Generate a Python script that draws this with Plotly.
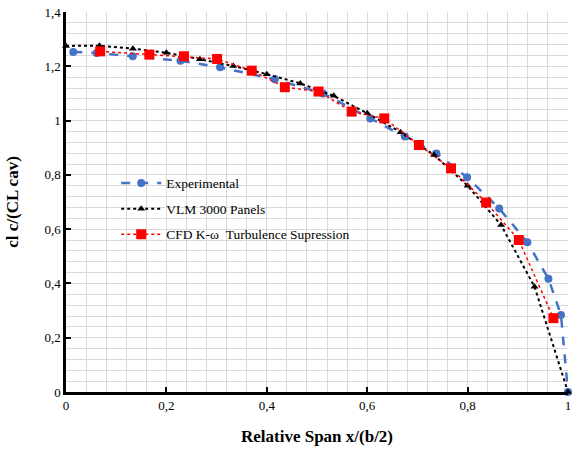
import plotly.graph_objects as go

# Experimental data
exp_x = [0.0145, 0.061, 0.133, 0.228, 0.307, 0.416, 0.512, 0.606, 0.675, 0.738, 0.799, 0.863, 0.919, 0.961, 0.986, 1.0]
exp_y = [1.253, 1.249, 1.237, 1.220, 1.196, 1.152, 1.100, 1.008, 0.941, 0.879, 0.791, 0.676, 0.552, 0.417, 0.284, 0.0]

# VLM 3000 panels
vlm_x = [0.0, 0.0667, 0.1333, 0.2, 0.2667, 0.3333, 0.4, 0.4667, 0.5333, 0.6, 0.6667, 0.7333, 0.8, 0.8667, 0.9333, 1.0]
vlm_y = [1.275, 1.276, 1.265, 1.250, 1.226, 1.201, 1.171, 1.137, 1.091, 1.027, 0.957, 0.873, 0.760, 0.615, 0.388, 0.0]

# CFD K-omega
cfd_x = [0.068, 0.166, 0.235, 0.301, 0.370, 0.436, 0.503, 0.569, 0.634, 0.703, 0.767, 0.837, 0.902, 0.971]
cfd_y = [1.255, 1.243, 1.237, 1.227, 1.184, 1.123, 1.107, 1.033, 1.008, 0.910, 0.824, 0.698, 0.560, 0.272]

x_ticks = [0, 0.2, 0.4, 0.6, 0.8, 1.0]
y_ticks = [0, 0.2, 0.4, 0.6, 0.8, 1.0, 1.2, 1.4]

FONT = "Liberation Serif, Times New Roman, serif"
GRID = "#d9d9d9"

fig = go.Figure()
fig.add_trace(go.Scatter(
    x=exp_x, y=exp_y, mode="lines+markers", name="Experimental", legendgroup="a",
    line=dict(color="#4472C4", width=2.5, dash="dash"),
    marker=dict(symbol="circle", size=8, color="#4472C4"),
    cliponaxis=False))
fig.add_trace(go.Scatter(
    x=vlm_x, y=vlm_y, mode="lines+markers", name="VLM 3000 Panels", legendgroup="b",
    line=dict(color="black", width=2, dash="dot"),
    marker=dict(symbol="triangle-up", size=7, color="black"),
    cliponaxis=False))
fig.add_trace(go.Scatter(
    x=cfd_x, y=cfd_y, mode="lines+markers", name="CFD K-\u03c9  Turbulence Supression", legendgroup="c",
    line=dict(color="#FF0000", width=1.5, dash="dot"),
    marker=dict(symbol="square", size=10, color="#FF0000"),
    cliponaxis=False))

fig.update_layout(
    width=578, height=450,
    margin=dict(l=66, r=10, t=12, b=58),
    paper_bgcolor="white", plot_bgcolor="white",
    separators=", ",
    font=dict(family=FONT, size=13, color="black"),
    showlegend=True,
    legend=dict(x=0.1, y=0.59, xanchor="left", yanchor="top",
                bgcolor="rgba(0,0,0,0)", font=dict(family=FONT, size=13.5, color="black"),
                itemwidth=40, tracegroupgap=5),
)
fig.update_xaxes(
    range=[0, 1], tickvals=x_ticks, showgrid=True, gridcolor=GRID, gridwidth=1,
    minor=dict(dtick=0.04, tick0=0, showgrid=True, gridcolor=GRID, gridwidth=1),
    showline=True, linecolor="black", linewidth=2.5,
    ticks="inside", ticklen=5, tickwidth=2, tickcolor="black",
    zeroline=False, automargin=False,
    title=dict(text="<b>Relative Span x/(b/2)</b>", font=dict(family=FONT, size=17), standoff=18),
    tickfont=dict(family=FONT, size=13),
)
fig.update_yaxes(
    range=[0, 1.4], tickvals=y_ticks, showgrid=True, gridcolor=GRID, gridwidth=1,
    minor=dict(dtick=0.04, tick0=0, showgrid=True, gridcolor=GRID, gridwidth=1),
    showline=True, linecolor="black", linewidth=2.5,
    ticks="inside", ticklen=5, tickwidth=2, tickcolor="black",
    zeroline=False, automargin=False,
    title=dict(text="<b>cl c/(CL cav)</b>", font=dict(family=FONT, size=17), standoff=22),
    tickfont=dict(family=FONT, size=13),
)

fig.write_html("out.html", config={"displayModeBar": False},
               post_script="document.body.style.margin='0';")
